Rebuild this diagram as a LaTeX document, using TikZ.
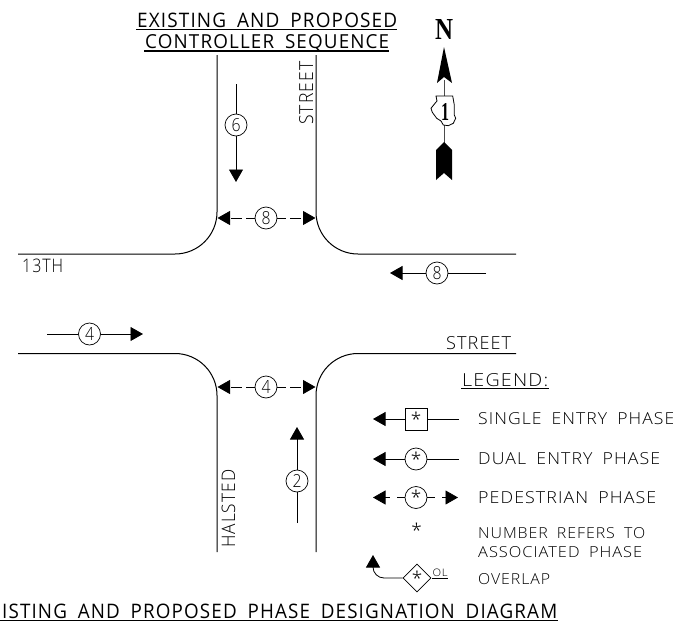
\documentclass[tikz,border=0pt]{standalone}
\usepackage{fontspec}
\usepackage{graphicx}
\setmainfont[LetterSpace=6,WordSpace=1.8]{Open Sans Light}
\newfontfamily\titlefont[LetterSpace=6,WordSpace=1.8]{Open Sans}
\newfontfamily\northfont{Liberation Serif}
\usetikzlibrary{arrows.meta,shapes.geometric}
\newcommand{\cadfit}[3]{\resizebox{#1pt}{#2pt}{\fontsize{20}{20}\selectfont #3}}
\newcommand{\cadtitle}[3]{\resizebox{#1pt}{#2pt}{\titlefont\fontsize{20}{20}\selectfont #3}}
\newcommand{\astk}{\raisebox{-3.5pt}{\fontsize{19}{19}\selectfont *}}
\tikzset{
 curb/.style={line width=1pt},
 phasecirc/.style={draw,circle,minimum size=22pt,inner sep=0pt,line width=.7pt},
 phasebox/.style={draw,rectangle,minimum size=22pt,inner sep=0pt,line width=.7pt},
 phasedia/.style={draw,diamond,minimum width=28pt,minimum height=28pt,inner sep=0pt,line width=.7pt},
 arrowline/.style={line width=.8pt,-{Triangle[length=12.5pt,width=14pt]}},
 plainline/.style={line width=.8pt},
 dashone/.style={line width=.8pt,dash pattern=on 9pt off 4pt on 11pt off 60pt,-{Triangle[length=12.5pt,width=14pt]}},
 dashtwo/.style={line width=.8pt,dash pattern=on 8pt off 7pt on 20pt,-{Triangle[length=12.5pt,width=14pt]}},
 cadtext/.style={inner sep=0pt,anchor=base west},
 rule/.style={line width=1.1pt}
}
\begin{document}
\begin{tikzpicture}[x=1pt,y=-1pt]
\useasboundingbox (0,0) rectangle (673,624);
\clip (0,0) rectangle (673,624);
% titles
\node[cadtext] (t1) at (137,27) {\cadtitle{260}{14.5}{EXISTING AND PROPOSED}};
\node[cadtext] (t2) at (145,48) {\cadtitle{244}{14}{CONTROLLER SEQUENCE}};
\draw[rule] (136,29.5) -- (397,29.5);
\draw[rule] (144,51) -- (389,51);
\node[cadtext] (t3) at (2,618) {\cadtitle{555}{14.5}{ISTING AND PROPOSED PHASE DESIGNATION DIAGRAM}};
\draw[rule] (0,620.5) -- (558,620.5);
% curbs
\draw[curb] (217,55) -- (217,212) arc[start angle=0,end angle=90,radius=42] -- (18,254);
\draw[curb] (316,55) -- (316,212) arc[start angle=180,end angle=90,radius=42] -- (516,254);
\draw[curb] (18,353.5) -- (175,353.5) arc[start angle=-90,end angle=0,radius=42] -- (217,552);
\draw[curb] (516,353.5) -- (358,353.5) arc[start angle=270,end angle=180,radius=42] -- (316,552);
% street names
\node[cadtext,rotate=90] (s1) at (313,125) {\cadfit{63}{14}{STREET}};
\node[cadtext,rotate=90] (s2) at (235,548) {\cadfit{78}{13.5}{HALSTED}};
\node[cadtext] (s3) at (22,272) {\cadfit{41}{13.5}{13TH}};
\node[cadtext] (s4) at (446,349) {\cadfit{65}{13}{STREET}};
% phase 6
\node[phasecirc] (p6) at (236,125) {\cadfit{9}{13}{6}};
\coordinate (p6a) at (236,84); \coordinate (p6b) at (236,182);
\draw[plainline] (p6a) -- (p6);
\draw[arrowline] (p6) -- (p6b);
% ped 8
\node[phasecirc] (p8) at (266,218) {\cadfit{9}{13}{8}};
\coordinate (p8l) at (217.5,218); \coordinate (p8r) at (315.5,218);
\draw[dashone] (p8) -- (p8l);
\draw[dashone] (p8) -- (p8r);
% phase 8 east
\node[phasecirc] (p8e) at (437,273) {\cadfit{9}{13}{8}};
\coordinate (p8ea) at (486,273); \coordinate (p8eb) at (390,273);
\draw[plainline] (p8ea) -- (p8e);
\draw[arrowline] (p8e) -- (p8eb);
% phase 4 west
\node[phasecirc] (p4w) at (89.5,334) {\cadfit{9}{13}{4}};
\coordinate (p4a) at (47,334); \coordinate (p4b) at (143,334);
\draw[plainline] (p4a) -- (p4w);
\draw[arrowline] (p4w) -- (p4b);
% ped 4
\node[phasecirc] (p4) at (266,387) {\cadfit{9}{13}{4}};
\coordinate (p4l) at (217.5,387); \coordinate (p4r) at (315.5,387);
\draw[dashone] (p4) -- (p4l);
\draw[dashone] (p4) -- (p4r);
% phase 2
\node[phasecirc] (p2) at (297,481) {\cadfit{9}{13}{2}};
\coordinate (p2a) at (297,523); \coordinate (p2b) at (297,427);
\draw[plainline] (p2a) -- (p2);
\draw[arrowline] (p2) -- (p2b);
% north arrow
\node[inner sep=0pt,anchor=base west] (n) at (435,39) {\resizebox{18pt}{20pt}{\northfont\bfseries N}};
\draw[line width=.9pt,black!70] (444,80) -- (444,143);
\fill (444,47) -- (452,83) -- (444,77) -- (437,83) -- cycle;
\fill (436,150) -- (444,142) -- (452,150) -- (452,180) -- (444,173) -- (436,180) -- cycle;
\filldraw[fill=white,draw=black,line width=.8pt] (436,96) -- (452.7,96) -- (454.3,105) -- (454.3,115) -- (455.7,118.3) -- (453.3,123.3) -- (448.3,125.7) -- (443.3,125) -- (441,121) -- (436.7,118.3) -- (432.3,112.3) -- (431,108.3) -- (435,103.3) -- (437,101) -- cycle;
\node[inner sep=0pt,anchor=base west] (one) at (441,120) {\resizebox{8pt}{17pt}{\northfont\bfseries 1}};
% legend
\node[cadtext] (lg) at (462,386) {\cadfit{86}{13}{LEGEND:}};
\draw[rule] (461,388.5) -- (549,388.5);
\node[phasebox] (l1) at (416,419) {\astk};
\coordinate (l1a) at (459,419); \coordinate (l1b) at (373,419);
\draw[plainline] (l1a) -- (l1);
\draw[arrowline] (l1) -- (l1b);
\node[cadtext] (l1t) at (478,424) {\cadfit{196}{12}{SINGLE ENTRY PHASE}};
\node[phasecirc] (l2) at (416,459) {\astk};
\coordinate (l2a) at (459,459); \coordinate (l2b) at (373,459);
\draw[plainline] (l2a) -- (l2);
\draw[arrowline] (l2) -- (l2b);
\node[cadtext] (l2t) at (478,464) {\cadfit{182}{12}{DUAL ENTRY PHASE}};
\node[phasecirc] (l3) at (416,497.5) {\astk};
\coordinate (l3a) at (373,497.5); \coordinate (l3b) at (458,497.5);
\draw[dashtwo] (l3) -- (l3a);
\draw[dashtwo] (l3) -- (l3b);
\node[cadtext] (l3t) at (478,503) {\cadfit{178}{12}{PEDESTRIAN PHASE}};
\node[inner sep=0pt] (ast) at (416.5,530) {\astk};
\node[cadtext] (l4a) at (478,538) {\cadfit{167}{11}{NUMBER REFERS TO}};
\node[cadtext] (l4b) at (478,557) {\cadfit{164}{11}{ASSOCIATED PHASE}};
\node[phasedia] (l5) at (417,578) {\astk};
\coordinate (l5b) at (373,555);
\draw[line width=.8pt,-{Triangle[length=12.5pt,width=14pt]}] (l5) -- (384,578) arc[start angle=90,end angle=180,radius=11] -- (l5b);
\node[cadtext] (ol) at (432.5,576.5) {\cadfit{15}{7.5}{OL}};
\draw[plainline] (432,578) -- (448,578);
\node[cadtext] (l5t) at (478,584) {\cadfit{72}{11}{OVERLAP}};
\end{tikzpicture}
\end{document}
